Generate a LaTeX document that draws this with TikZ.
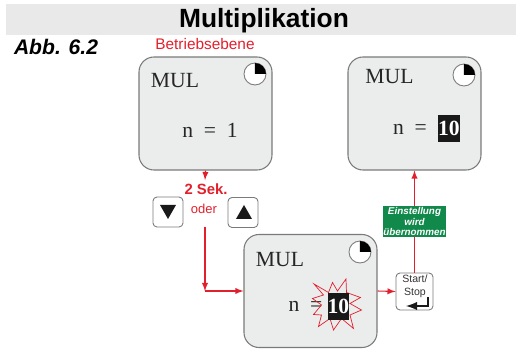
\documentclass[tikz,border=0pt]{standalone}
\usepackage{fontspec}
\setmainfont{Liberation Serif}
\setsansfont{Liberation Sans}
\definecolor{bandgray}{HTML}{E9E9E9}
\definecolor{boxgray}{HTML}{EBECEC}
\definecolor{linegray}{HTML}{7A7A7A}
\definecolor{markred}{HTML}{E2202C}
\definecolor{notegreen}{HTML}{10894A}
\tikzset{
  display/.style={draw=linegray,line width=0.6pt,fill=boxgray,rounded corners=0.3cm,minimum width=2.66cm,minimum height=2.26cm},
  keybox/.style={draw=linegray,line width=0.5pt,fill=white,rounded corners=0.08cm,minimum width=0.6cm,minimum height=0.6cm},
  lcd/.style={font=\fontsize{12.3}{14}\selectfont,text=black!85,inner sep=0pt},
  value/.style={fill=black!90,text=white,font=\fontsize{12.3}{14}\selectfont\bfseries,minimum width=0.42cm,minimum height=0.54cm,inner sep=0pt},
  redtext/.style={text=markred,font=\sffamily,inner sep=0pt},
  redline/.style={draw=markred,line width=0.6pt},
  redarrow/.style={redline,-latex},
}
\begin{document}
\begin{tikzpicture}
                \useasboundingbox (0,0) rectangle (10.32,6.98);
                \fill[bandgray] (0.12,6.28) rectangle (10.32,6.9);
                \node[font=\sffamily\bfseries\fontsize{15}{18}\selectfont,inner sep=0pt] (title) at (5.28,6.56) {Multiplikation};
                \node[font=\sffamily\bfseries\itshape\fontsize{12}{14}\selectfont,inner sep=0pt] (figno) at (1.12,6.05) {Abb. 6.2};
                \node[redtext,font=\sffamily\fontsize{8.75}{10}\selectfont] (level) at (4.1,6.1) {Betriebsebene};
                \node[display] (first) at (4.11,4.71) {};
                \node[display] (second) at (8.29,4.71) {};
                \node[display] (third) at (6.21,1.16) {};
                \node[lcd] (firstmul) at (3.5,5.36) {MUL};
                \node[lcd] (secondmul) at (7.79,5.44) {MUL};
                \node[lcd] (thirdmul) at (5.6,1.78) {MUL};
                \foreach \clockx/\clocky in {5.1/5.5,9.28/5.48,7.2/1.94}{
                    \draw[linegray,line width=0.5pt,fill=white] (\clockx,\clocky) circle (0.22);
                    \fill[black] (\clockx,\clocky) -- ++(0,0.22) arc (90:0:0.22) -- cycle;
                }
                \node[lcd] (firstn) at (4.2,4.38) {n~~=~~1};
                \node[lcd] (secondn) at (8.2,4.4) {n~~=};
                \node[lcd] (thirdn) at (6.11,0.86) {n~~=};
                \draw[markred,line width=0.4pt] (6.28,1.30) -- (6.57,1.13) -- (6.65,1.33) -- (6.75,1.16) -- (6.92,1.40) -- (6.93,1.13) -- (7.21,1.03) -- (7.00,0.91) -- (7.23,0.78) -- (7.00,0.68) -- (7.07,0.41) -- (6.83,0.61) -- (6.67,0.38) -- (6.60,0.61) -- (6.37,0.45) -- (6.43,0.68) -- (6.27,0.69) -- (6.43,0.88) -- (6.25,1.01) -- (6.47,1.08) -- cycle;
                \node[value] (secondvalue) at (8.98,4.41) {10};
                \node[value] (thirdvalue) at (6.77,0.85) {10};
                \node[redtext,font=\sffamily\bfseries\fontsize{8.45}{10}\selectfont] (delay) at (4.12,3.2) {2 Sek.};
                \node[redtext,font=\sffamily\fontsize{7.4}{9}\selectfont] (either) at (4.08,2.8) {oder};
                \node[keybox] (down) at (3.36,2.74) {};
                \node[keybox] (up) at (4.86,2.73) {};
                \fill[black!90] (3.2,2.88) -- (3.52,2.88) -- (3.36,2.6) -- cycle;
                \fill[black!90] (4.72,2.6) -- (5.04,2.6) -- (4.88,2.88) -- cycle;
                \node[keybox,minimum width=0.74cm,minimum height=0.74cm] (start) at (8.29,1.15) {};
                \node[font=\sffamily\fontsize{6}{7.5}\selectfont,align=center,inner sep=0pt,text=black!80] (starttext) at (8.3,1.25) {Start/\\Stop};
                \draw[black!90,line width=1.2pt,-latex] (8.56,1.04) -- (8.56,0.86) -- (8.12,0.86);
                \node[fill=notegreen,text=white,font=\sffamily\bfseries\itshape\fontsize{5.6}{6.2}\selectfont,align=center,inner sep=0pt,minimum width=1.26cm,minimum height=0.62cm] (note) at (8.29,2.55) {Einstellung\\wird\\übernommen};
                \coordinate (split) at (4.1,2.44);
                \coordinate (corner) at (4.1,1.16);
                \draw[redarrow] (first.south) -- (4.1,3.38);
                \draw[redarrow] (split) -- (corner);
                \draw[redarrow] (corner) -- (third.west);
                \draw[redarrow] (third.east) -- (start.west);
                \draw[redline] (start.north) -- (note.south);
                \draw[redarrow] (note.north) -- (second.south);
            \end{tikzpicture}
\end{document}
